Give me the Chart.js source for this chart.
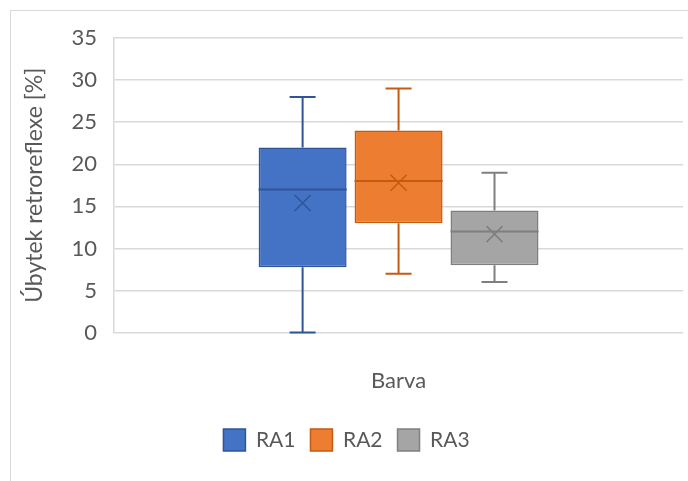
<!DOCTYPE html>
<html>
<head>
<meta charset="utf-8">
<script src="https://cdn.jsdelivr.net/npm/chart.js@4/dist/chart.umd.min.js"></script>
<style>
  html, body { margin: 0; padding: 0; background: #fff; }
  #wrap { position: relative; width: 688px; height: 481px; overflow: hidden; }
  #frame { position: absolute; left: 10px; top: 10px; width: 700px; height: 500px; border: 1px solid #d9d9d9; }
  #chart { position: absolute; left: 0; top: 0; }
</style>
</head>
<body>
<div id="wrap">
  <div id="frame"></div>
  <canvas id="chart" width="688" height="481"></canvas>
</div>
<script>
// box plot values
const categories = ['RA1', 'RA2', 'RA3'];
const mins = [0, 7, 6];
const q1 = [7.75, 13, 8];
const medians = [17, 18, 12];
const q3 = [22, 24, 14.5];
const maxs = [28, 29, 19];
const means = [15.4, 17.8, 11.7];
const yTicks = [0, 5, 10, 15, 20, 25, 30, 35];

const fills = ['#4472c4', '#ed7d31', '#a5a5a5'];
const lines = ['#2f5597', '#c55a11', '#7f7f7f'];

const boxExtras = {
  id: 'boxExtras',
  afterDatasetsDraw(chart) {
    const ctx = chart.ctx;
    const y = chart.scales.y;
    categories.forEach((c, i) => {
      const el = chart.getDatasetMeta(i).data[0];
      if (!el) return;
      const x = el.x, half = el.width / 2;
      ctx.save();
      ctx.strokeStyle = lines[i];
      ctx.lineWidth = 2;
      ctx.beginPath();
      // whiskers
      ctx.moveTo(x, y.getPixelForValue(q3[i]));
      ctx.lineTo(x, y.getPixelForValue(maxs[i]));
      ctx.moveTo(x, y.getPixelForValue(q1[i]));
      ctx.lineTo(x, y.getPixelForValue(mins[i]));
      ctx.moveTo(x - 13, y.getPixelForValue(maxs[i]));
      ctx.lineTo(x + 13, y.getPixelForValue(maxs[i]));
      ctx.moveTo(x - 13, y.getPixelForValue(mins[i]));
      ctx.lineTo(x + 13, y.getPixelForValue(mins[i]));
      // median
      ctx.moveTo(x - half, y.getPixelForValue(medians[i]));
      ctx.lineTo(x + half, y.getPixelForValue(medians[i]));
      ctx.stroke();
      // mean marker
      const my = y.getPixelForValue(means[i]);
      ctx.lineWidth = 1.5;
      ctx.beginPath();
      ctx.moveTo(x - 8, my - 8);
      ctx.lineTo(x + 8, my + 8);
      ctx.moveTo(x + 8, my - 8);
      ctx.lineTo(x - 8, my + 8);
      ctx.stroke();
      ctx.restore();
    });
  }
};

const font = { family: 'Lato', size: 22 };
const titleFont = { family: 'Lato', size: 23 };

new Chart(document.getElementById('chart'), {
  type: 'bar',
  data: {
    labels: ['Barva'],
    datasets: categories.map((c, i) => ({
      label: c,
      data: [[q1[i], q3[i]]],
      backgroundColor: fills[i],
      borderColor: lines[i],
      borderWidth: 1.5,
      borderSkipped: false,
      barPercentage: 0.917,
      categoryPercentage: 0.506
    }))
  },
  options: {
    responsive: false,
    animation: false,
    layout: { padding: { left: 10, right: 5, top: 38, bottom: 20 } },
    plugins: {
      tooltip: { enabled: false },
      legend: {
        position: 'bottom',
        labels: { font: { family: 'Lato', size: 21 }, color: '#595959', boxWidth: 22, boxHeight: 22, padding: 15 }
      }
    },
    scales: {
      x: {
        grid: { display: false },
        border: { display: false },
        ticks: { display: false },
        title: { display: true, text: 'Barva', font, color: '#595959', padding: { top: 27, bottom: 20 } }
      },
      y: {
        min: 0,
        max: 35,
        afterBuildTicks: (axis) => { axis.ticks = yTicks.map(v => ({ value: v })); },
        grid: { color: '#d9d9d9', lineWidth: 1.5, drawTicks: false },
        border: { display: true, color: '#d9d9d9', width: 1.5 },
        ticks: { font, color: '#595959', padding: 17 },
        title: { display: true, text: 'Úbytek retroreflexe [%]', font: titleFont, color: '#595959', padding: { top: 11, bottom: 6 } }
      }
    }
  },
  plugins: [boxExtras]
});
</script>
</body>
</html>
